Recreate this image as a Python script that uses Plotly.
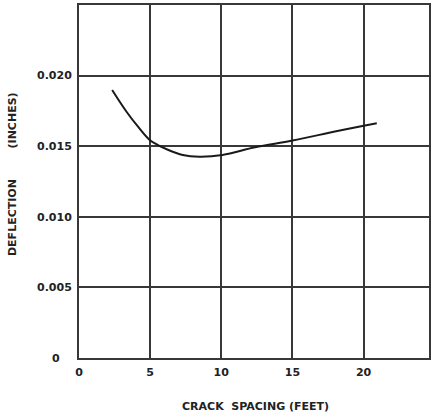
import plotly.graph_objects as go

# Deflection versus crack spacing
crack_spacing_ft = [2.33, 3.34, 4.15, 4.97, 5.55, 6.13, 7.29, 8.46, 10.09,
                    12.38, 15.0, 18.25, 20.93]
deflection_in = [0.01898, 0.01744, 0.01638, 0.01544, 0.01508, 0.01480, 0.01438,
                 0.01426, 0.01438, 0.01492, 0.01540, 0.01609, 0.01662]

x_ticks = [0, 5, 10, 15, 20]
x_tick_labels = ["0", "5", "10", "15", "20"]
y_ticks = [0.005, 0.010, 0.015, 0.020]
y_tick_labels = ["0.005", "0.010", "0.015", "0.020"]

FONT = "DejaVu Sans"
INK = "#222222"
GRID = "#383838"

fig = go.Figure()
fig.add_trace(go.Scatter(
    x=crack_spacing_ft, y=deflection_in, mode="lines",
    line=dict(color="#1a1a1a", width=2, shape="spline", smoothing=1.0),
    hoverinfo="skip", showlegend=False,
))

axis_common = dict(
    showgrid=True, gridcolor=GRID, gridwidth=2,
    showline=True, linecolor=GRID, linewidth=2, mirror=True,
    zeroline=False, ticks="",
    tickfont=dict(family=FONT, size=11, color=INK, weight="bold"),
)

fig.update_xaxes(range=[0, 24.6], tickvals=x_ticks, ticktext=x_tick_labels,
                 ticklabelstandoff=3, **axis_common)
fig.update_yaxes(range=[0, 0.025], tickvals=y_ticks, ticktext=y_tick_labels,
                 ticklabelstandoff=3, **axis_common)

title_font = dict(family=FONT, size=11, color=INK, weight="bold")
fig.add_annotation(text="0", xref="paper", x=0, xshift=-23, yref="y", y=0,
                   xanchor="center", yanchor="middle", showarrow=False,
                   font=title_font)
fig.add_annotation(text="CRACK&nbsp;&nbsp;SPACING (FEET)", xref="paper", x=0.505,
                   yref="paper", y=-0.136, xanchor="center", yanchor="middle",
                   showarrow=False, font=title_font)
fig.add_annotation(text="DEFLECTION" + "&nbsp;" * 8 + "(INCHES)",
                   xref="paper", x=0, xshift=-67, yref="y", y=0.01303,
                   xanchor="center", yanchor="middle", textangle=-90,
                   showarrow=False, font=title_font)

fig.update_layout(
    width=431, height=417,
    margin=dict(l=79, r=0, t=5, b=59),
    paper_bgcolor="white", plot_bgcolor="white",
)

fig.write_html("out.html")
